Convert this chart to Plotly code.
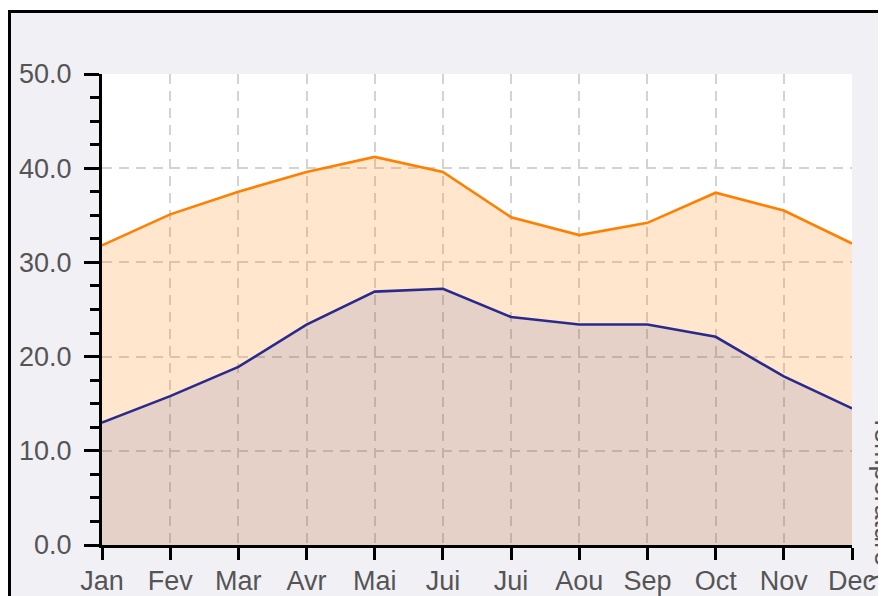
import plotly.graph_objects as go

months = ["Jan", "Fev", "Mar", "Avr", "Mai", "Jui", "Jui", "Aou", "Sep", "Oct", "Nov", "Dec"]
temp_max = [31.8, 35.1, 37.5, 39.6, 41.2, 39.6, 34.8, 32.9, 34.2, 37.4, 35.5, 32.0]
temp_min = [13.0, 15.8, 18.9, 23.4, 26.9, 27.2, 24.2, 23.4, 23.4, 22.1, 17.9, 14.5]
x_idx = list(range(len(months)))

OFF = 8  # page body margin
W, H = 886 - OFF, 596 - OFF
L, R, T, B = 102 - OFF, 852 - OFF, 74 - OFF, 545 - OFF

def px_x(p):
    return (p - OFF - L) / (R - L)

def px_y(p):
    return (B - (p - OFF)) / (B - T)

fig = go.Figure()
fig.add_trace(go.Scatter(
    x=x_idx, y=temp_max, mode="lines",
    line=dict(color="#ff8000", width=2.6),
    fill="tozeroy", fillcolor="rgba(255,135,20,0.21)",
    hoverinfo="skip", showlegend=False))
fig.add_trace(go.Scatter(
    x=x_idx, y=temp_min, mode="lines",
    line=dict(color="#2a2a8c", width=2.6),
    fill="tozeroy", fillcolor="rgba(0,30,150,0.10)",
    hoverinfo="skip", showlegend=False))

font = dict(family="Liberation Sans, Arial, sans-serif", size=27, color="#555555")

fig.update_layout(
    width=W, height=H,
    margin=dict(l=L, r=W - R, t=T, b=H - B, pad=0, autoexpand=False),
    paper_bgcolor="#f1f0f5",
    plot_bgcolor="white",
    font=font,
    showlegend=False,
    xaxis=dict(
        range=[0, 11], tickmode="array", tickvals=x_idx, ticktext=months,
        showline=True, linecolor="black", linewidth=3,
        ticks="outside", ticklen=12, tickwidth=3, tickcolor="black",
        showgrid=True, gridcolor="#d3d3d3", gridwidth=2, griddash="10px,7px",
        zeroline=False, tickfont=font, ticklabelstandoff=-2,
        automargin=False,
    ),
    yaxis=dict(
        range=[0, 50], dtick=10, tickformat=".1f",
        showline=True, linecolor="black", linewidth=3,
        ticks="outside", ticklen=15, tickwidth=3, tickcolor="black",
        minor=dict(dtick=2.5, ticks="outside", ticklen=9, tickwidth=3,
                   tickcolor="black", showgrid=False),
        showgrid=True, gridcolor="#d3d3d3", gridwidth=2, griddash="10px,7px",
        zeroline=False, tickfont=font, ticklabelstandoff=7,
        automargin=False,
    ),
    shapes=[
        # white outside the frame
        dict(type="rect", xref="paper", yref="paper", layer="below",
             x0=px_x(-20), x1=px_x(9), y0=px_y(700), y1=px_y(-20),
             fillcolor="white", line=dict(width=0)),
        dict(type="rect", xref="paper", yref="paper", layer="below",
             x0=px_x(-20), x1=px_x(950), y0=px_y(10), y1=px_y(-20),
             fillcolor="white", line=dict(width=0)),
        # black frame lines
        dict(type="line", xref="paper", yref="paper", layer="above",
             x0=px_x(9.5), x1=px_x(9.5), y0=px_y(10), y1=px_y(700),
             line=dict(color="black", width=3)),
        dict(type="line", xref="paper", yref="paper", layer="above",
             x0=px_x(8), x1=px_x(950), y0=px_y(11.5), y1=px_y(11.5),
             line=dict(color="black", width=3)),
    ],
    annotations=[
        dict(text="Température (°C)", xref="paper", yref="paper",
             x=px_x(884), y=px_y(412), xanchor="center", yanchor="top",
             textangle=90, showarrow=False, font=font),
    ],
)

fig.write_html("out.html")
